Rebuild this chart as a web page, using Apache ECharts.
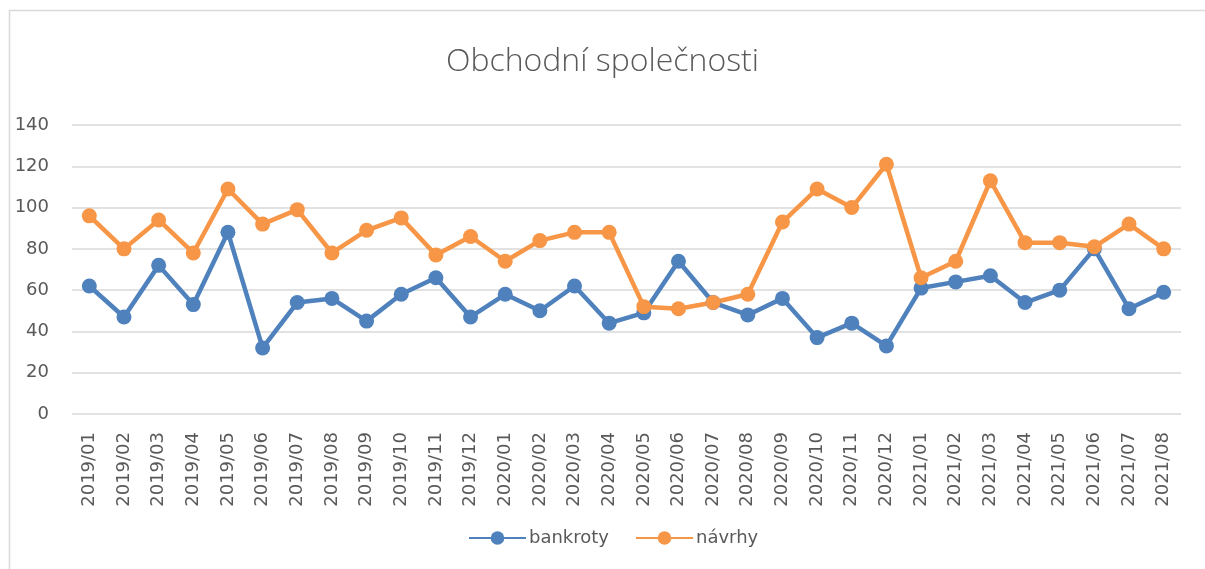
<!DOCTYPE html>
<html>
<head>
<meta charset="utf-8">
<script src="https://cdn.jsdelivr.net/npm/echarts@6/dist/echarts.min.js"></script>
<style>
html,body{margin:0;padding:0;background:#fff;}
#chart{width:1205px;height:569px;}
</style>
</head>
<body>
<div id="chart"></div>
<script>
const categories = ["2019/01","2019/02","2019/03","2019/04","2019/05","2019/06","2019/07","2019/08","2019/09","2019/10","2019/11","2019/12",
"2020/01","2020/02","2020/03","2020/04","2020/05","2020/06","2020/07","2020/08","2020/09","2020/10","2020/11","2020/12",
"2021/01","2021/02","2021/03","2021/04","2021/05","2021/06","2021/07","2021/08"];
const bankroty = [62,47,72,53,88,32,54,56,45,58,66,47,58,50,62,44,49,74,54,48,56,37,44,33,61,64,67,54,60,80,51,59];
const navrhy = [96,80,94,78,109,92,99,78,89,95,77,86,74,84,88,88,52,51,54,58,93,109,100,121,66,74,113,83,83,81,92,80];
const yTicks = {min:0, max:140, interval:20};

const chart = echarts.init(document.getElementById('chart'));
const txt = '#595959';
chart.setOption({
  animation:false,
  backgroundColor:'#fff',
  graphic:[{type:'rect', shape:{x:9.5,y:10.5,width:1300,height:700}, style:{fill:'none', stroke:'#d9d9d9', lineWidth:1.5}, silent:true}],
  title:{text:'Obchodní společnosti', left:'center', top:41, textStyle:{fontFamily:'Open Sans', fontWeight:300, fontSize:32, color:txt}},
  grid:{left:72, right:24, top:125, bottom:155, containLabel:false},
  legend:{top:524, left:463, itemWidth:57, itemHeight:17, itemGap:26,
    textStyle:{fontFamily:'DejaVu Sans', fontSize:18, color:txt, padding:[0,0,0,-2]},
    data:['bankroty','návrhy']},
  xAxis:{type:'category', data:categories, boundaryGap:true,
    axisLine:{show:false}, axisTick:{show:false},
    axisLabel:{rotate:90, interval:0, margin:18, fontFamily:'DejaVu Sans', fontSize:18, color:txt}},
  yAxis:{type:'value', min:yTicks.min, max:yTicks.max, interval:yTicks.interval,
    axisLine:{show:false}, axisTick:{show:false},
    axisLabel:{margin:23, fontFamily:'DejaVu Sans', fontSize:18, color:txt},
    splitLine:{lineStyle:{color:'#d9d9d9', width:1.5}}},
  series:[
    {name:'bankroty', type:'line', data:bankroty, symbol:'circle', symbolSize:15,
      lineStyle:{color:'#4F81BD', width:4.5}, itemStyle:{color:'#4F81BD'}},
    {name:'návrhy', type:'line', data:navrhy, symbol:'circle', symbolSize:15,
      lineStyle:{color:'#F79646', width:4.5}, itemStyle:{color:'#F79646'}}
  ]
});
</script>
</body>
</html>
